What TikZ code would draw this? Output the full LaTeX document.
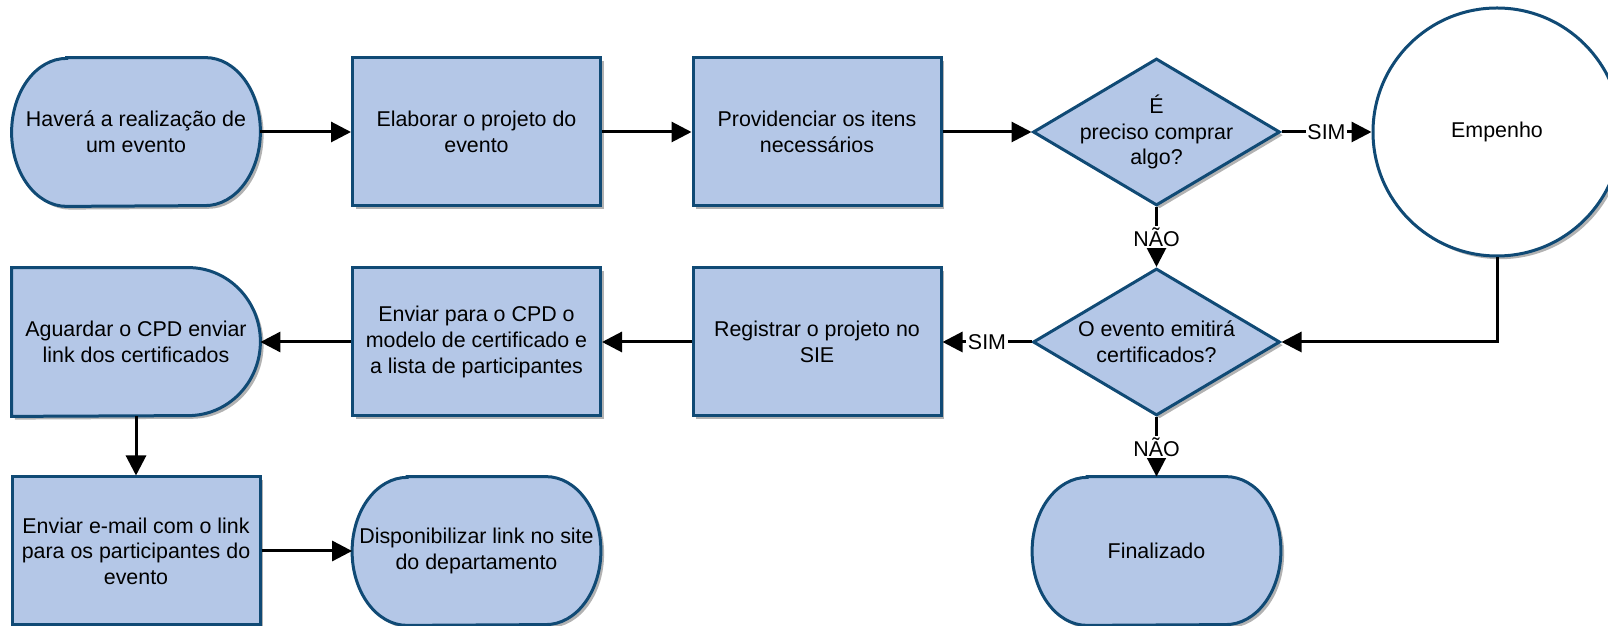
\documentclass[tikz,border=0pt]{standalone}
\usepackage{fontspec}
\setmainfont{Liberation Sans}
\usetikzlibrary{shapes.geometric,arrows.meta,shadows,backgrounds}
\definecolor{nodefill}{RGB}{180,199,231}
\definecolor{nodeline}{RGB}{16,74,117}
\tikzset{
  txt/.style={font=\fontsize{10.7pt}{12.8pt}\selectfont, align=center, text=black},
  shad/.style={drop shadow={shadow xshift=1.6pt, shadow yshift=-1.6pt, opacity=0.3, fill=black}},
  procbox/.style={txt, rectangle, draw=nodeline, fill=nodefill, line width=1.5pt, minimum width=124pt, minimum height=74pt, inner sep=0pt, shad},
  holder/.style={txt, rectangle, minimum width=124pt, minimum height=74pt, inner sep=0pt},
  shapeline/.style={draw=nodeline, fill=nodefill, line width=1.5pt, shad},
  decision/.style={diamond, draw=nodeline, fill=nodefill, line width=1.5pt, minimum width=123.5pt, minimum height=73.5pt, inner sep=0pt, shad},
  endcircle/.style={txt, circle, draw=nodeline, fill=white, line width=1.5pt, minimum size=124pt, inner sep=0pt, shad},
  conn/.style={draw=black, line width=1.5pt, -{Triangle[length=10pt,width=10pt]}},
  lbl/.style={txt, fill=white, inner sep=0.8pt},
}
\begin{document}
\begin{tikzpicture}[x=0.5pt,y=0.5pt]
\useasboundingbox (0,0) rectangle (1608,626);
% row 1
\node[holder] (start) at (136,494) {Haverá a realização de\\um evento};
\node[procbox] (elab) at (476.5,494) {Elaborar o projeto do\\evento};
\node[procbox] (prov) at (817,494) {Providenciar os itens\\necessários};
\node[decision] (d1) at (1156.5,494) {};
\node[txt] (d1t) at (d1.center) {É\\preciso comprar\\algo?};
\node[endcircle] (emp) at (1497,494) {Empenho};
% row 2
\node[decision] (d2) at (1156.5,284) {};
\node[txt] (d2t) at (d2.center) {O evento emitirá\\certificados?};
\node[procbox] (reg) at (817,284) {Registrar o projeto no\\SIE};
\node[procbox] (cpd) at (476.5,284) {Enviar para o CPD o\\modelo de certificado e\\a lista de participantes};
\node[holder] (agu) at (136,284) {Aguardar o CPD enviar\\link dos certificados};
% row 3
\node[procbox] (email) at (136,75) {Enviar e-mail com o link\\para os participantes do\\evento};
\node[holder] (disp) at (476.5,75) {Disponibilizar link no site\\do departamento};
\node[holder] (fin) at (1156.5,75) {Finalizado};
% custom shapes behind the text
\begin{scope}[on background layer]
\foreach \n in {start,disp,fin}{
  \path[shapeline] ([xshift=27.5pt]\n.north west) -- ([xshift=-27.5pt]\n.north east)
    arc[start angle=90, end angle=-90, x radius=27.5pt, y radius=37pt]
    -- ([xshift=27.5pt]\n.south west)
    arc[start angle=270, end angle=90, x radius=27.5pt, y radius=37pt] -- cycle;
}
\path[shapeline] (agu.north west) -- ([xshift=-36pt]agu.north east)
  arc[start angle=90, end angle=-90, x radius=36pt, y radius=37pt]
  -- (agu.south west) -- cycle;
\end{scope}
% connectors
\draw[conn] (start) -- (elab);
\draw[conn] (elab) -- (prov);
\draw[conn] (prov) -- (d1);
\draw[conn] (d1) -- node[lbl]{SIM} (emp);
\draw[conn] (d1) -- node[lbl]{NÃO} (d2);
\draw[conn] (emp.south) |- (d2.east);
\draw[conn] (d2) -- node[lbl]{SIM} (reg);
\draw[conn] (reg) -- (cpd);
\draw[conn] (cpd) -- (agu);
\draw[conn] (agu) -- (email);
\draw[conn] (email) -- (disp);
\draw[conn] (d2) -- node[lbl]{NÃO} (fin);
\end{tikzpicture}
\end{document}
